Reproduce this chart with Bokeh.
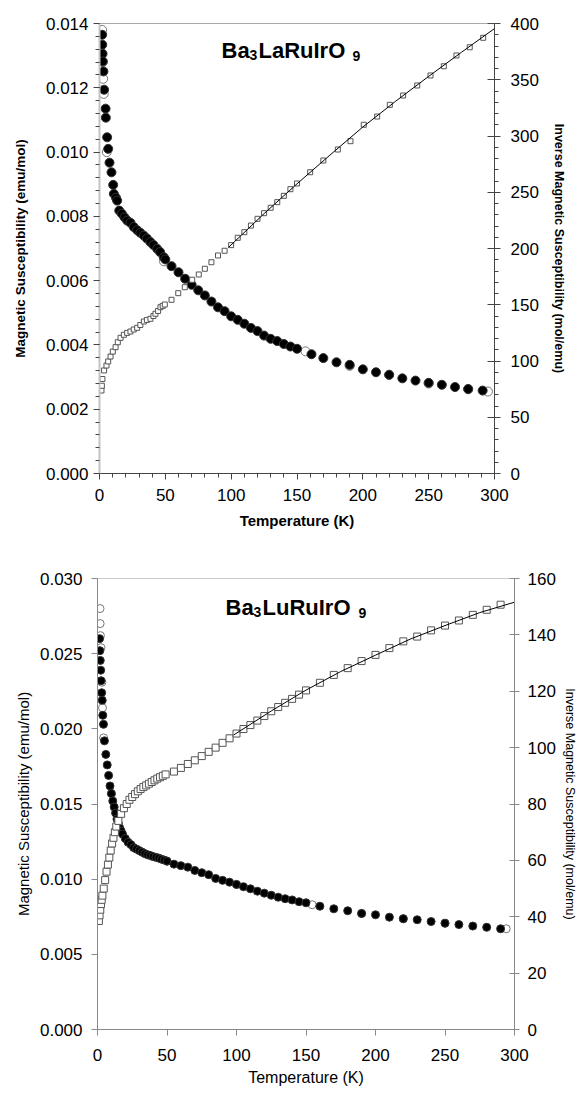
from bokeh.plotting import figure
from bokeh.models import (Range1d, LinearAxis, SingleIntervalTicker,
                          NumeralTickFormatter, Label, Span)
from bokeh.embed import file_html
from bokeh.resources import INLINE

# ---------------- Ba3LaRuIrO9 (top panel) ----------------
la_T_filled = [2.0, 2.1, 2.3, 2.5, 3.0, 3.5, 4.6, 4.8, 5.8, 6.6, 7.6, 9.1, 10.4, 10.9,
               12.5, 13.4, 15, 17, 19, 21, 23.5, 26, 28.6, 31, 33.7, 36, 38.7, 41,
               43.8, 46, 48.8, 50, 54.7, 60, 65, 70, 75, 80, 85, 90, 95, 100, 105,
               110, 115, 120, 125, 130, 135, 140, 145, 150, 161, 170, 180, 190, 200,
               210, 220, 230, 240, 250, 260, 270, 280, 291]
la_chi_filled = [0.01365, 0.01334, 0.01306, 0.01282, 0.01251, 0.01194, 0.01135, 0.01107,
                 0.01046, 0.0101, 0.00967, 0.00937, 0.00898, 0.0087, 0.00858, 0.00849,
                 0.00818, 0.00808, 0.00797, 0.00787, 0.00780, 0.00767, 0.00757, 0.00749,
                 0.0074, 0.00731, 0.0072, 0.00711, 0.00699, 0.00689, 0.00673, 0.00666,
                 0.00645, 0.00626, 0.00606, 0.00587, 0.0057, 0.00554, 0.00535, 0.00517,
                 0.00505, 0.00489, 0.00478, 0.00466, 0.00453, 0.00443, 0.00429, 0.00419,
                 0.00412, 0.00403, 0.00395, 0.00388, 0.00371, 0.00359, 0.00346, 0.00338,
                 0.00324, 0.00315, 0.00307, 0.00296, 0.00289, 0.00282, 0.00276, 0.00269,
                 0.00263, 0.00258]
la_T_open = [2.0, 2.5, 2.8, 3.2, 5.5, 49, 156.5, 190, 220, 250, 280, 295]
la_chi_open = [0.0138, 0.0128, 0.01228, 0.01181, 0.0100, 0.0066, 0.0038, 0.00335,
               0.00307, 0.0028, 0.00262, 0.00255]
la_T_inv = [1.5, 1.8, 2.2, 3.5, 5.3, 6.6, 8.4, 10.1, 12.2, 13.9, 16, 18.5, 21, 23.5, 26,
            28.6, 31, 33.7, 36, 38.7, 41, 42.5, 44.5, 46.3, 48, 49.6, 54.7, 59.8, 64.8,
            70.4, 75.4, 80, 85, 90, 95, 100, 105, 110, 115, 120, 125, 130, 135, 140,
            145, 150, 160, 170, 181, 190.6, 200.7, 210.9, 220.5, 230.6, 241.3, 251.4,
            261.5, 271.1, 281.2, 291.4]
la_inv = [73.8, 78, 84, 91.6, 96, 99.6, 104, 108.4, 112.3, 116.7, 120.6, 123.3, 125,
          126.2, 128, 129.5, 132, 135.1, 136.5, 137.5, 140, 142, 144.5, 147.8, 149,
          150.2, 154.4, 160.3, 165.6, 172.2, 176.9, 182, 187.8, 193.8, 198, 203, 209.5,
          214.5, 220.4, 226.4, 231.4, 236.2, 241.2, 246.8, 252.7, 257.8, 267.8, 278.2,
          288, 295.4, 310, 317.3, 327.7, 336, 344.9, 353.8, 362, 371.6, 378.9, 387.3]
la_fit_T = [98, 125, 150, 175, 200, 225, 250, 275, 300]
la_fit_inv = [201, 231, 257.5, 283, 308, 331, 353, 374.5, 395.5]

# ---------------- Ba3LuRuIrO9 (bottom panel) ----------------
lu_T_filled = [1.5, 1.7, 2.0, 2.3, 2.6, 3.0, 3.4, 3.8, 4.3, 5.0, 6.0, 7.0, 8.0, 9.0, 10,
               11, 12, 13, 14, 15, 16, 17, 18, 20, 22, 24, 26, 28, 30, 32, 34, 36, 38,
               40, 42, 44, 46, 48, 50, 55, 60, 65, 70, 75, 80, 85, 90, 95, 100, 105,
               110, 115, 120, 125, 130, 135, 140, 145, 150, 160, 170, 180, 190, 200,
               210, 220, 230, 240, 250, 260, 270, 280, 290]
lu_chi_filled = [0.0260, 0.0252, 0.02455, 0.0239, 0.0232, 0.0224, 0.0219, 0.0209, 0.0203,
                 0.0192, 0.0183, 0.0176, 0.0169, 0.0162, 0.0157, 0.0152, 0.0148, 0.0144,
                 0.0140, 0.0137, 0.0134, 0.0132, 0.0130, 0.0127, 0.01245, 0.0123, 0.0121,
                 0.0120, 0.0119, 0.0118, 0.0117, 0.01163, 0.01157, 0.0115, 0.01145,
                 0.0114, 0.01133, 0.01127, 0.0112, 0.0110, 0.0109, 0.0108, 0.01058,
                 0.01043, 0.0103, 0.01005, 0.00992, 0.0098, 0.00965, 0.0095, 0.00936,
                 0.0092, 0.00907, 0.00893, 0.0088, 0.0087, 0.00862, 0.0085, 0.00843,
                 0.0082, 0.00803, 0.0079, 0.00772, 0.00763, 0.00747, 0.00737, 0.0073,
                 0.00718, 0.00707, 0.00698, 0.00688, 0.0068, 0.0067]
lu_T_open = [1.8, 1.9, 2.1, 2.5, 3.2, 3.6, 4.4, 50, 100, 154.4, 190, 220, 250, 294]
lu_chi_open = [0.0280, 0.0270, 0.0262, 0.0254, 0.0231, 0.0214, 0.0194, 0.0112, 0.00965,
               0.0083, 0.00772, 0.00737, 0.00707, 0.0067]
lu_T_inv = [1.0, 1.5, 2.0, 2.5, 3.0, 3.5, 4.5, 5.5, 6.5, 7.5, 8.5, 9.5, 10.5, 11.5, 12.5,
            13.5, 15, 17, 19, 21, 23, 25, 27, 29, 31, 33, 35, 37, 39, 41, 43, 45, 47, 49,
            55, 60, 65, 70, 75, 80, 85, 90, 95, 100, 105, 110, 115, 120, 125, 130, 135,
            140, 145, 150, 160, 170, 180, 190, 200, 210, 220, 230, 240, 250, 260, 270,
            280, 290]
lu_inv = [38.5, 40.5, 42.5, 44.5, 46, 47.5, 50, 53, 56, 58.5, 61, 63.5, 66, 68, 70, 72,
          74, 76.5, 78.5, 80, 81.5, 82.5, 83.5, 84.5, 85.3, 86, 86.6, 87.2, 87.8, 88.4,
          89, 89.5, 90, 90.5, 91.5, 92.8, 94.2, 95.5, 97, 98.5, 100, 101.7, 103.3, 105,
          106.6, 108, 109.6, 111.2, 112.9, 114.4, 115.9, 117.3, 118.8, 120.3, 123, 125.8,
          128.2, 130.7, 132.9, 135.3, 137.7, 139.4, 141.6, 143.3, 145.1, 147.1, 148.9,
          150.7]
lu_fit_T = [98, 125, 150, 175, 200, 225, 250, 275, 300]
lu_fit_inv = [104.5, 113, 120.4, 127, 132.8, 138.5, 143.3, 147.9, 151.6]

FONT = "Liberation Sans"


def add_title(p, parts):
    for txt, x, y, size in parts:
        p.add_layout(Label(x=x, y=y, x_units="screen", y_units="screen", text=txt,
                           text_font=FONT, text_font_size=size, text_font_style="bold",
                           text_color="black", text_align="left",
                           text_baseline="alphabetic"))


# ======== top figure ========
p1 = figure(width=579, height=540, x_range=Range1d(0, 300), y_range=Range1d(0, 0.014),
            output_backend="svg", toolbar_location=None,
            min_border_left=99, min_border_right=85, min_border_top=23,
            min_border_bottom=67)
p1.outline_line_color = None
p1.grid.grid_line_color = None
p1.background_fill_color = "white"
p1.border_fill_color = "white"
p1.extra_y_ranges = {"inv": Range1d(0, 400)}

xa = p1.below[0]
xa.ticker = SingleIntervalTicker(interval=50, num_minor_ticks=5)
xa.axis_label = "Temperature (K)"
ya = p1.left[0]
ya.ticker = SingleIntervalTicker(interval=0.002, num_minor_ticks=5)
ya.formatter = NumeralTickFormatter(format="0.000")
ya.axis_label = "Magnetic Susceptibility (emu/mol)"
ra = LinearAxis(y_range_name="inv",
                ticker=SingleIntervalTicker(interval=50, num_minor_ticks=5),
                axis_label="Inverse Magnetic Susceptibility (mol/emu)")
p1.add_layout(ra, "right")

for ax in (xa, ya, ra):
    ax.major_label_text_font = FONT
    ax.major_label_text_font_size = "17px"
    ax.major_label_text_color = "black"
    ax.axis_label_text_font = FONT
    ax.axis_label_text_font_style = "bold"
    ax.axis_label_text_color = "black"
    ax.major_tick_line_color = "#444444"
    ax.minor_tick_line_color = "#444444"
    ax.axis_line_color = "#444444"
    ax.major_tick_out = 6
    ax.major_tick_in = 0
    ax.minor_tick_out = 4
    ax.minor_tick_in = 0
xa.axis_label_text_font_size = "15px"
xa.major_label_standoff = 9
xa.axis_label_standoff = 8
ya.axis_label_text_font_size = "13.5px"
ya.major_label_standoff = 5
ya.axis_label_standoff = 15
ya.axis_line_color = "#c4c4c4"
ya.axis_line_width = 2
ra.axis_label_text_font_size = "12.5px"
ra.major_tick_in = 7
ra.major_label_standoff = 10
ra.axis_label_standoff = 10

p1.add_layout(Span(location=0.014, dimension="width", line_color="#555555", line_width=1))

p1.scatter(la_T_open, la_chi_open, marker="circle", size=9, fill_color="white",
           line_color="#777777", line_width=1)
p1.scatter(la_T_filled, la_chi_filled, marker="circle", size=9, fill_color="black",
           line_color="#333333", line_width=1)
p1.scatter(la_T_inv, la_inv, y_range_name="inv", marker="square", size=5,
           fill_color="white", line_color="#555555", line_width=1)
p1.line(la_fit_T, la_fit_inv, y_range_name="inv", line_color="black", line_width=1)

add_title(p1, [("Ba", 122, 423, "22px"), ("3", 150, 419, "14px"),
               ("LaRuIrO", 159, 423, "22px"), ("9", 253, 418, "14px")])

# ======== bottom figure ========
p2 = figure(width=579, height=555, x_range=Range1d(0, 300), y_range=Range1d(0, 0.030),
            output_backend="svg", toolbar_location=None,
            min_border_left=97, min_border_right=65, min_border_top=38,
            min_border_bottom=66)
p2.outline_line_color = None
p2.grid.grid_line_color = None
p2.background_fill_color = "white"
p2.border_fill_color = "white"
p2.extra_y_ranges = {"inv": Range1d(0, 160)}

xb = p2.below[0]
xb.ticker = SingleIntervalTicker(interval=50, num_minor_ticks=0)
xb.axis_label = "Temperature (K)"
yb = p2.left[0]
yb.ticker = SingleIntervalTicker(interval=0.005, num_minor_ticks=0)
yb.formatter = NumeralTickFormatter(format="0.000")
yb.axis_label = "Magnetic Susceptibility (emu/mol)"
rb = LinearAxis(y_range_name="inv",
                ticker=SingleIntervalTicker(interval=20, num_minor_ticks=0),
                axis_label="Inverse Magnetic Susceptibility (mol/emu)")
p2.add_layout(rb, "right")

for ax in (xb, yb, rb):
    ax.major_label_text_font = FONT
    ax.major_label_text_font_size = "17px"
    ax.major_label_text_color = "black"
    ax.axis_label_text_font = FONT
    ax.axis_label_text_font_style = "normal"
    ax.axis_label_text_color = "black"
    ax.major_tick_line_color = "#888888"
    ax.axis_line_color = "#888888"
    ax.major_tick_out = 6
    ax.major_tick_in = 0
    ax.minor_tick_line_color = None
xb.axis_label_text_font_size = "16px"
xb.major_label_standoff = 13
xb.axis_label_standoff = 5
yb.axis_label_text_font_size = "15px"
yb.major_label_standoff = 9
yb.axis_label_standoff = 5
rb.axis_label_text_font_size = "12.5px"
rb.major_tick_out = 5
rb.major_tick_in = 5
rb.major_label_standoff = 8
rb.axis_label_standoff = 4

p2.add_layout(Span(location=0.030, dimension="width", line_color="#999999", line_width=1))

p2.scatter(lu_T_open, lu_chi_open, marker="circle", size=8, fill_color="white",
           line_color="#777777", line_width=1)
p2.scatter(lu_T_filled, lu_chi_filled, marker="circle", size=8, fill_color="black",
           line_color="#333333", line_width=1)
p2.scatter(lu_T_inv, lu_inv, y_range_name="inv", marker="square", size=7,
           fill_color="white", line_color="#555555", line_width=1)
p2.line(lu_fit_T, lu_fit_inv, y_range_name="inv", line_color="black", line_width=1)

add_title(p2, [("Ba", 128, 422, "22px"), ("3", 156, 418, "14px"),
               ("LuRuIrO", 165, 422, "22px"), ("9", 261, 417, "14px")])

open("out.html", "w").write(file_html([p1, p2], INLINE))
